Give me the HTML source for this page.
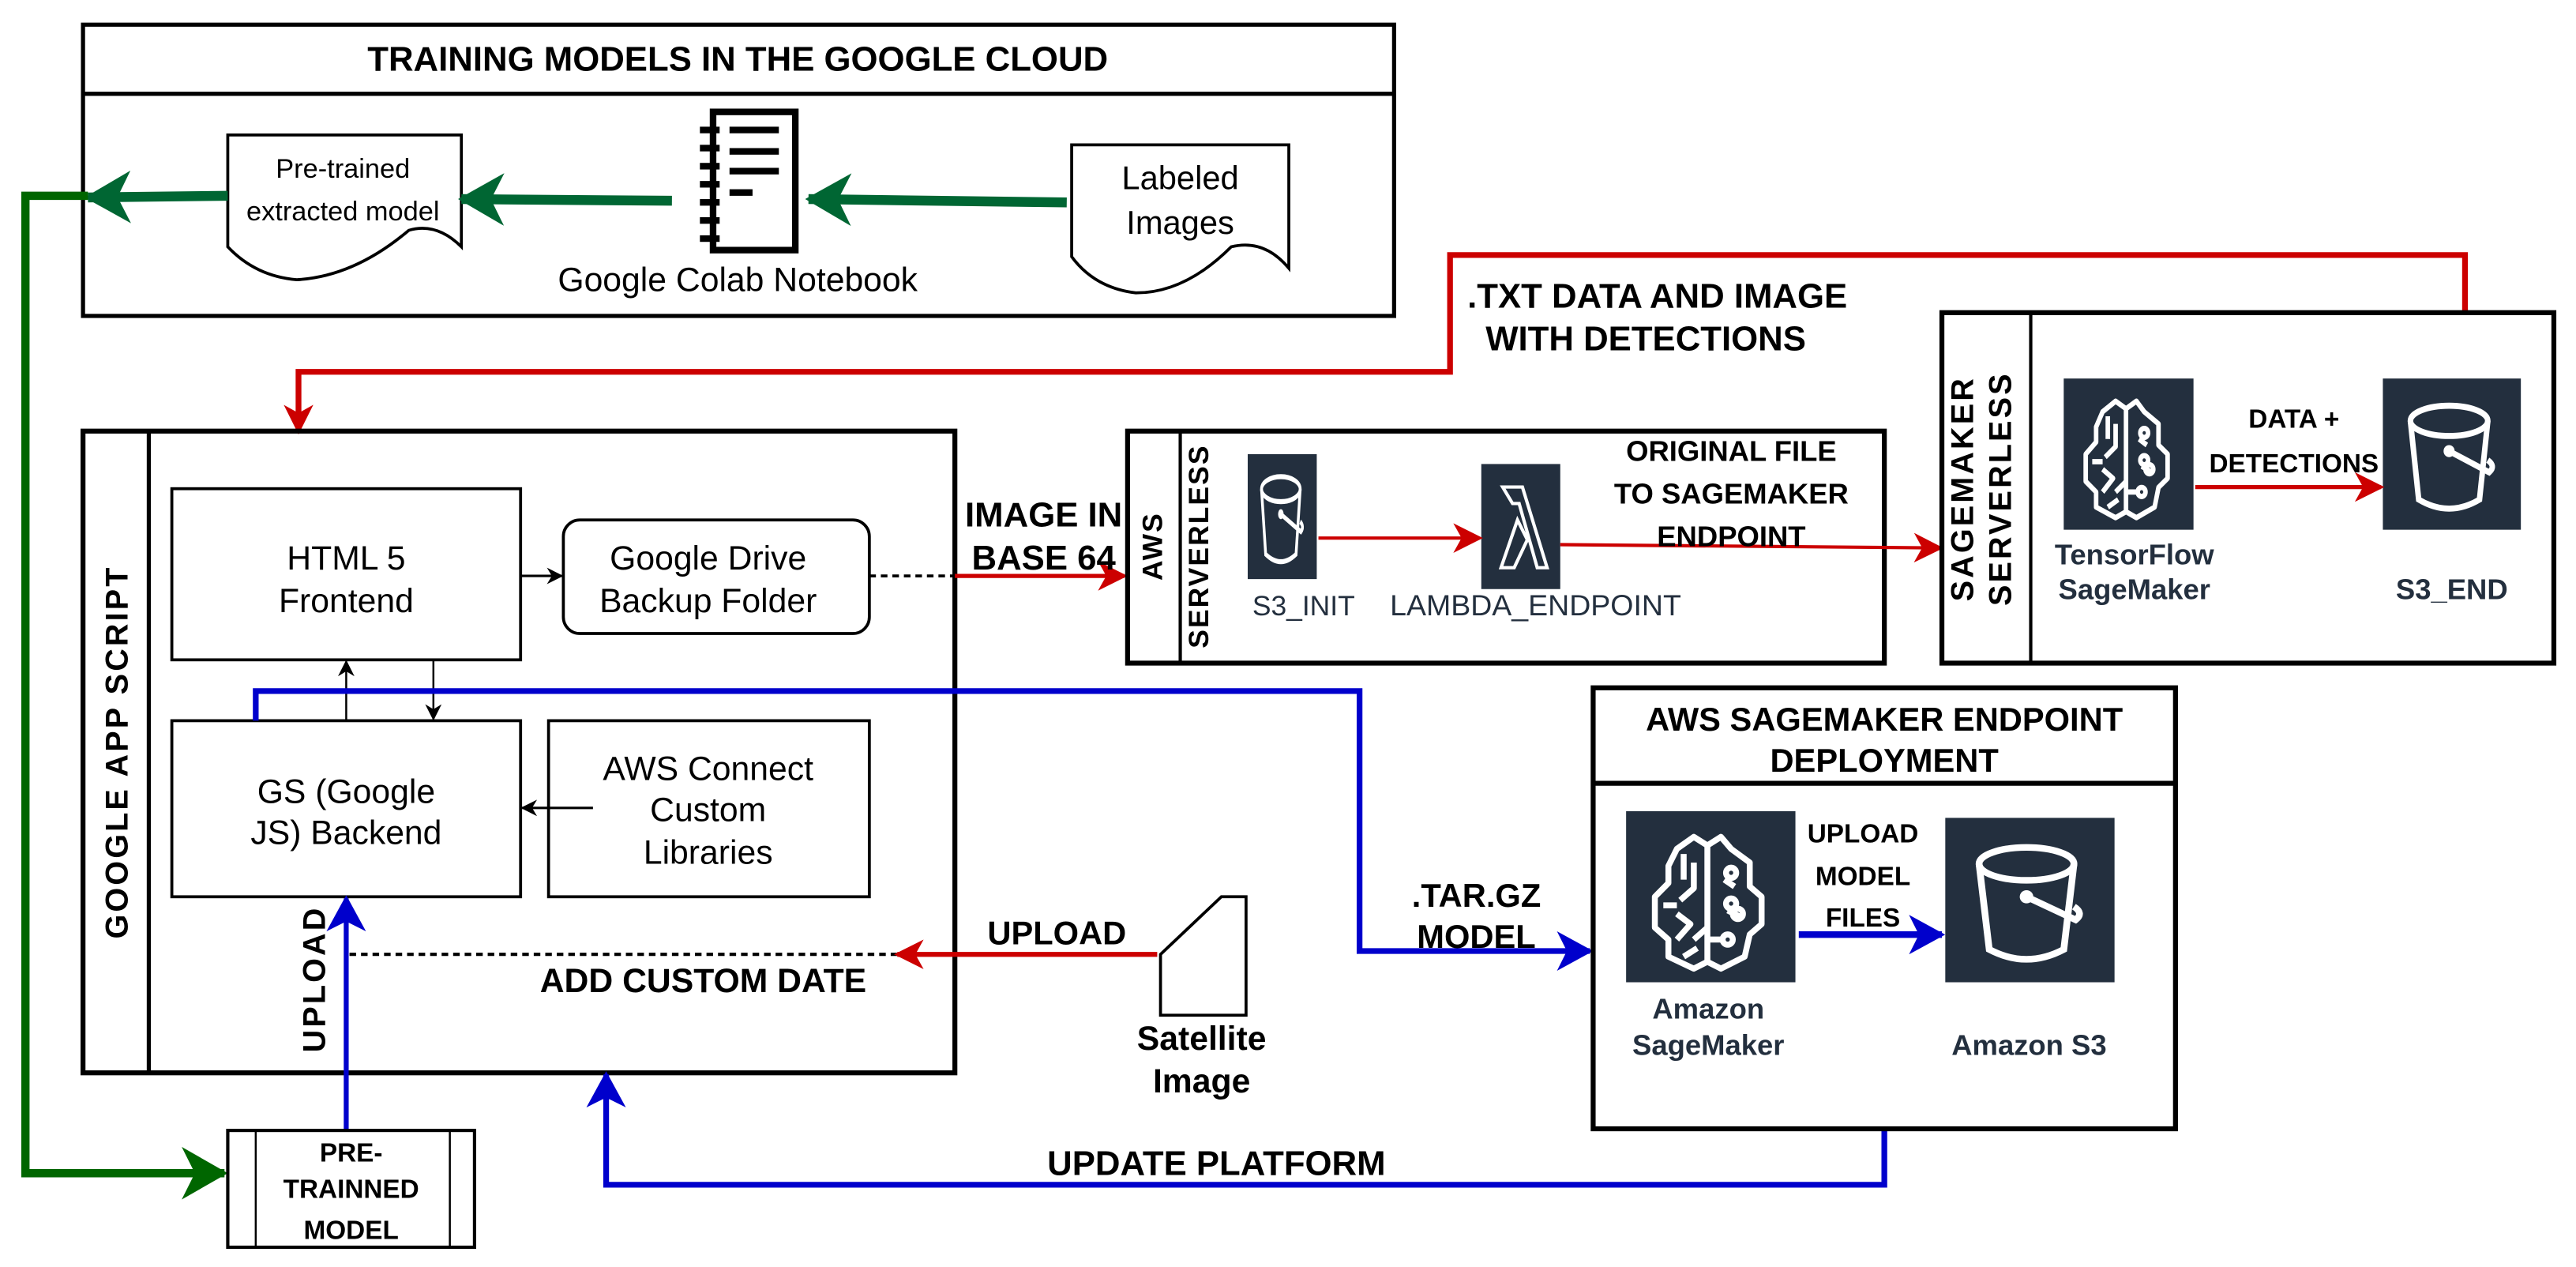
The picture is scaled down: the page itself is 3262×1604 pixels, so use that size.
<!DOCTYPE html>
<html><head><meta charset="utf-8"><style>
html,body{margin:0;padding:0;background:#fff;}
svg{display:block;}
text{font-family:"Liberation Sans",Arial,sans-serif;}
.b{font-weight:bold;}
</style></head><body>
<svg width="3262" height="1604" viewBox="0 0 1565 770" xmlns="http://www.w3.org/2000/svg">
<defs>
<marker id="ab" markerWidth="10" markerHeight="10" refX="9" refY="5" orient="auto" markerUnits="userSpaceOnUse"><path d="M0,0 L10,5 L0,10 L3,5 Z" fill="#000"/></marker>
<marker id="ar" markerWidth="18" markerHeight="18" refX="16" refY="9" orient="auto" markerUnits="userSpaceOnUse"><path d="M0,0 L18,9 L0,18 L5,9 Z" fill="#cc0000"/></marker>
<marker id="abl" markerWidth="22" markerHeight="24" refX="20" refY="12" orient="auto" markerUnits="userSpaceOnUse"><path d="M0,0 L22,12 L0,24 L6,12 Z" fill="#0000cc"/></marker>
<marker id="ag" markerWidth="28" markerHeight="32" refX="26" refY="16" orient="auto" markerUnits="userSpaceOnUse"><path d="M0,0 L28,16 L0,32 L8,16 Z" fill="#006633"/></marker>
<marker id="ag2" markerWidth="28" markerHeight="32" refX="26" refY="16" orient="auto" markerUnits="userSpaceOnUse"><path d="M0,0 L28,16 L0,32 L8,16 Z" fill="#006600"/></marker>
<symbol id="bucket" viewBox="0 0 100 100" preserveAspectRatio="none">
<rect width="100" height="100" fill="#232f3e"/>
<g fill="none" stroke="#fff" stroke-width="4">
<ellipse cx="48" cy="28" rx="28" ry="10"/>
<path d="M20,28 L26,80 Q48,92 70,80 L76,28"/>
<path d="M48,48 L77,62 Q82,58 76,54"/>
</g><circle cx="48" cy="48" r="4" fill="#fff"/>
</symbol>
<symbol id="brain" viewBox="0 0 100 100" preserveAspectRatio="none">
<rect width="100" height="100" fill="#232f3e"/>
<g fill="none" stroke="#fff" stroke-width="3.5" stroke-linejoin="round">
<path d="M48,20 L40,15 L30,22 L25,32 L25,42 L17,50 L17,68 L25,75 L25,85 L40,92 L48,88 L56,92 L70,85 L73,72 L80,66 L80,50 L73,44 L73,30 L62,22 L56,15 L48,20 Z"/>
<path d="M48,20 L48,88"/>
<path d="M34,25 L34,40 M40,30 L40,45 L32,52 M22,55 L30,55 M30,60 L38,66 L30,75 M40,75 L48,68 M58,40 L64,44 M60,58 L68,62 M48,75 L58,75 M34,85 L42,80"/>
<circle cx="62" cy="36" r="3"/><circle cx="62" cy="54" r="3"/><circle cx="66" cy="60" r="3"/><circle cx="60" cy="75" r="3"/>
</g>
</symbol>
</defs>

<rect x="50" y="15" width="797" height="177" fill="none" stroke="#000" stroke-width="2.5"/>
<line x1="50" y1="57" x2="847" y2="57" stroke="#000" stroke-width="2.5"/>
<text x="448" y="43" text-anchor="middle" font-size="21" class="b">TRAINING MODELS IN THE GOOGLE CLOUD</text>

<path d="M138,82 L280,82 L280,150 Q265,135 248,140 Q215,168 180,170 Q155,168 138,150 Z" fill="#fff" stroke="#000" stroke-width="1.8"/>
<text x="208" y="108" text-anchor="middle" font-size="16.5">Pre-trained</text>
<text x="208" y="134" text-anchor="middle" font-size="16.5">extracted model</text>

<path d="M651,88 L783,88 L783,163 Q768,145 748,150 Q720,178 690,178 Q665,175 651,156 Z" fill="#fff" stroke="#000" stroke-width="1.8"/>
<text x="717" y="115" text-anchor="middle" font-size="20">Labeled</text>
<text x="717" y="142" text-anchor="middle" font-size="20">Images</text>

<rect x="433" y="68" width="50" height="84" fill="#fff" stroke="#000" stroke-width="4"/>
<g fill="#000">
<rect x="425" y="77" width="12" height="4"/><rect x="425" y="88" width="12" height="4"/><rect x="425" y="99" width="12" height="4"/><rect x="425" y="110" width="12" height="4"/><rect x="425" y="121" width="12" height="4"/><rect x="425" y="132" width="12" height="4"/><rect x="425" y="143" width="12" height="4"/>
<rect x="443" y="77" width="30" height="4"/><rect x="443" y="90" width="30" height="4"/><rect x="443" y="102" width="30" height="4"/><rect x="443" y="115" width="14" height="4"/>
</g>
<text x="448" y="177" text-anchor="middle" font-size="20.5">Google Colab Notebook</text>

<line x1="648" y1="123" x2="491" y2="121" stroke="#006633" stroke-width="6" marker-end="url(#ag)"/>
<line x1="408" y1="122" x2="280" y2="121" stroke="#006633" stroke-width="6" marker-end="url(#ag)"/>
<line x1="138" y1="119" x2="53" y2="120" stroke="#006633" stroke-width="6" marker-end="url(#ag)"/>
<polyline points="53,119 15,119 15,713 136,713" fill="none" stroke="#006600" stroke-width="5" marker-end="url(#ag2)"/>

<polyline points="1498,190 1498,155 881,155 881,226 181,226 181,262" fill="none" stroke="#cc0000" stroke-width="3.5" marker-end="url(#ar)"/>
<text x="1007" y="187" text-anchor="middle" font-size="21" class="b">.TXT DATA AND IMAGE</text>
<text x="1000" y="213" text-anchor="middle" font-size="21" class="b">WITH DETECTIONS</text>

<rect x="50" y="262" width="530" height="390" fill="none" stroke="#000" stroke-width="3"/>
<line x1="90" y1="262" x2="90" y2="652" stroke="#000" stroke-width="2.5"/>
<text transform="translate(77,457) rotate(-90)" text-anchor="middle" font-size="19" class="b" letter-spacing="1.5">GOOGLE APP SCRIPT</text>

<rect x="104" y="297" width="212" height="104" fill="#fff" stroke="#000" stroke-width="1.8"/>
<text x="210" y="346" text-anchor="middle" font-size="20.5">HTML 5</text>
<text x="210" y="372" text-anchor="middle" font-size="20.5">Frontend</text>
<rect x="342" y="316" width="186" height="69" rx="10" fill="#fff" stroke="#000" stroke-width="1.8"/>
<text x="430" y="346" text-anchor="middle" font-size="20.5">Google Drive</text>
<text x="430" y="372" text-anchor="middle" font-size="20.5">Backup Folder</text>
<line x1="316" y1="350" x2="341" y2="350" stroke="#000" stroke-width="1.5" marker-end="url(#ab)"/>
<line x1="528" y1="350" x2="580" y2="350" stroke="#000" stroke-width="1.8" stroke-dasharray="4,3"/>
<line x1="580" y1="350" x2="683" y2="350" stroke="#cc0000" stroke-width="2.5" marker-end="url(#ar)"/>
<text x="634" y="320" text-anchor="middle" font-size="21" class="b">IMAGE IN</text>
<text x="634" y="346" text-anchor="middle" font-size="21" class="b">BASE 64</text>

<rect x="104" y="438" width="212" height="107" fill="#fff" stroke="#000" stroke-width="1.8"/>
<text x="210" y="488" text-anchor="middle" font-size="20.5">GS (Google</text>
<text x="210" y="513" text-anchor="middle" font-size="20.5">JS) Backend</text>
<rect x="333" y="438" width="195" height="107" fill="#fff" stroke="#000" stroke-width="1.8"/>
<text x="430" y="474" text-anchor="middle" font-size="20.5">AWS Connect</text>
<text x="430" y="499" text-anchor="middle" font-size="20.5">Custom</text>
<text x="430" y="525" text-anchor="middle" font-size="20.5">Libraries</text>
<line x1="360" y1="491" x2="317" y2="491" stroke="#000" stroke-width="1.5" marker-end="url(#ab)"/>
<line x1="210" y1="438" x2="210" y2="402" stroke="#000" stroke-width="1.2" marker-end="url(#ab)"/>
<line x1="263" y1="401" x2="263" y2="437" stroke="#000" stroke-width="1.2" marker-end="url(#ab)"/>

<polyline points="155,438 155,420 826,420 826,578 966,578" fill="none" stroke="#0000cc" stroke-width="3.5" marker-end="url(#abl)"/>
<text x="897" y="551" text-anchor="middle" font-size="20" class="b">.TAR.GZ</text>
<text x="897" y="576" text-anchor="middle" font-size="20" class="b">MODEL</text>

<line x1="210" y1="687" x2="210" y2="546" stroke="#0000cc" stroke-width="3" marker-end="url(#abl)"/>
<text transform="translate(197,595) rotate(-90)" text-anchor="middle" font-size="19" class="b" letter-spacing="1.5">UPLOAD</text>

<line x1="212" y1="580" x2="545" y2="580" stroke="#000" stroke-width="2" stroke-dasharray="4,3"/>
<line x1="703" y1="580" x2="545" y2="580" stroke="#cc0000" stroke-width="3" marker-end="url(#ar)"/>
<text x="642" y="574" text-anchor="middle" font-size="20" class="b">UPLOAD</text>
<text x="427" y="603" text-anchor="middle" font-size="20.5" class="b">ADD CUSTOM DATE</text>

<polygon points="742,545 757,545 757,617 705,617 705,580" fill="#fff" stroke="#000" stroke-width="1.8"/>
<text x="730" y="638" text-anchor="middle" font-size="20.5" class="b">Satellite</text>
<text x="730" y="664" text-anchor="middle" font-size="20.5" class="b">Image</text>

<rect x="138" y="687" width="150" height="71" fill="#fff" stroke="#000" stroke-width="2"/>
<line x1="155" y1="687" x2="155" y2="758" stroke="#000" stroke-width="1.2"/>
<line x1="273" y1="687" x2="273" y2="758" stroke="#000" stroke-width="1.2"/>
<text x="213" y="706" text-anchor="middle" font-size="16" class="b">PRE-</text>
<text x="213" y="728" text-anchor="middle" font-size="16" class="b">TRAINNED</text>
<text x="213" y="753" text-anchor="middle" font-size="16" class="b">MODEL</text>

<polyline points="1145,686 1145,720 368,720 368,653" fill="none" stroke="#0000cc" stroke-width="3.5" marker-end="url(#abl)"/>
<text x="739" y="714" text-anchor="middle" font-size="21" class="b">UPDATE PLATFORM</text>

<rect x="685" y="262" width="460" height="141" fill="none" stroke="#000" stroke-width="3"/>
<line x1="717" y1="262" x2="717" y2="403" stroke="#000" stroke-width="2"/>
<text transform="translate(706,332) rotate(-90)" text-anchor="middle" font-size="17" class="b" letter-spacing="1">AWS</text>
<text transform="translate(734,332) rotate(-90)" text-anchor="middle" font-size="17" class="b" letter-spacing="1">SERVERLESS</text>
<use href="#bucket" x="758" y="276" width="42" height="76"/>
<text x="792" y="374" text-anchor="middle" font-size="17" fill="#232f3e">S3_INIT</text>
<rect x="900" y="282" width="48" height="76" fill="#232f3e"/>
<path d="M913,296 L925,296 L940,345 L934,345 L923,306 L919,306 Z M922,316 L928,328 L920,345 L912,345 Z" fill="none" stroke="#fff" stroke-width="2"/>
<text x="933" y="374" text-anchor="middle" font-size="18" fill="#232f3e">LAMBDA_ENDPOINT</text>
<line x1="801" y1="327" x2="899" y2="327" stroke="#cc0000" stroke-width="2" marker-end="url(#ar)"/>
<line x1="948" y1="331" x2="1179" y2="333" stroke="#cc0000" stroke-width="2" marker-end="url(#ar)"/>
<text x="1052" y="280" text-anchor="middle" font-size="17.5" class="b">ORIGINAL FILE</text>
<text x="1052" y="306" text-anchor="middle" font-size="17.5" class="b">TO SAGEMAKER</text>
<text x="1052" y="332" text-anchor="middle" font-size="17.5" class="b">ENDPOINT</text>

<rect x="1180" y="190" width="372" height="213" fill="none" stroke="#000" stroke-width="3"/>
<line x1="1234" y1="190" x2="1234" y2="403" stroke="#000" stroke-width="2"/>
<text transform="translate(1199,297) rotate(-90)" text-anchor="middle" font-size="19" class="b" letter-spacing="1.5">SAGEMAKER</text>
<text transform="translate(1222,297) rotate(-90)" text-anchor="middle" font-size="19" class="b" letter-spacing="1.5">SERVERLESS</text>
<use href="#brain" x="1254" y="230" width="79" height="92"/>
<use href="#bucket" x="1448" y="230" width="84" height="92"/>
<line x1="1334" y1="296" x2="1447" y2="296" stroke="#cc0000" stroke-width="2.5" marker-end="url(#ar)"/>
<text x="1394" y="260" text-anchor="middle" font-size="16" class="b">DATA +</text>
<text x="1394" y="287" text-anchor="middle" font-size="16" class="b">DETECTIONS</text>
<text x="1297" y="343" text-anchor="middle" font-size="17.5" class="b" fill="#232f3e">TensorFlow</text>
<text x="1297" y="364" text-anchor="middle" font-size="17.5" class="b" fill="#232f3e">SageMaker</text>
<text x="1490" y="364" text-anchor="middle" font-size="17.5" class="b" fill="#232f3e">S3_END</text>

<rect x="968" y="418" width="354" height="268" fill="none" stroke="#000" stroke-width="3"/>
<line x1="968" y1="476" x2="1322" y2="476" stroke="#000" stroke-width="3"/>
<text x="1145" y="444" text-anchor="middle" font-size="20" class="b">AWS SAGEMAKER ENDPOINT</text>
<text x="1145" y="469" text-anchor="middle" font-size="20" class="b">DEPLOYMENT</text>
<use href="#brain" x="988" y="493" width="103" height="104"/>
<use href="#bucket" x="1182" y="497" width="103" height="100"/>
<line x1="1093" y1="568" x2="1180" y2="568" stroke="#0000cc" stroke-width="4" marker-end="url(#abl)"/>
<text x="1132" y="512" text-anchor="middle" font-size="16" class="b">UPLOAD</text>
<text x="1132" y="538" text-anchor="middle" font-size="16" class="b">MODEL</text>
<text x="1132" y="563" text-anchor="middle" font-size="16" class="b">FILES</text>
<text x="1038" y="619" text-anchor="middle" font-size="17.5" class="b" fill="#232f3e">Amazon</text>
<text x="1038" y="641" text-anchor="middle" font-size="17.5" class="b" fill="#232f3e">SageMaker</text>
<text x="1233" y="641" text-anchor="middle" font-size="17.5" class="b" fill="#232f3e">Amazon S3</text>
</svg>
</body></html>
